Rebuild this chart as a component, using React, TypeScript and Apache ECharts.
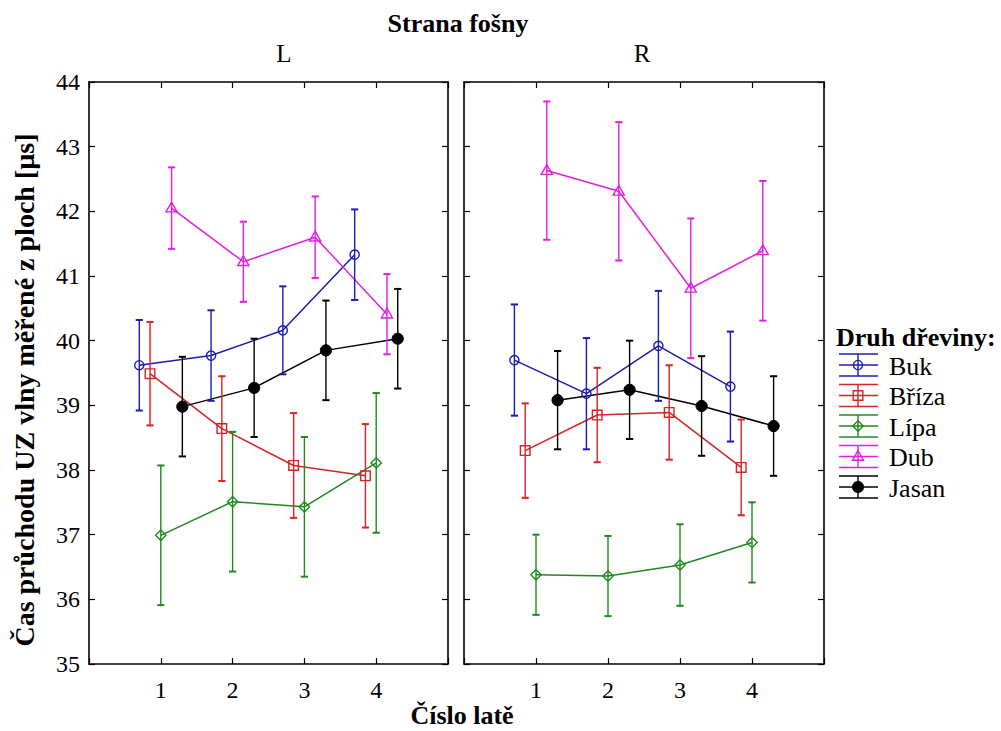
import React, { useEffect, useRef } from "react";
import * as echarts from "echarts";

// ---- data ----
const laths = [1, 2, 3, 4];
const xTickLabels = ["1", "2", "3", "4"];
const yMin = 35;
const yMax = 44;
const species = ["Buk", "Bříza", "Lípa", "Dub", "Jasan"];
const panels = ["L", "R"];

// side L: means and half-widths of error bars
const bukL = [39.62, 39.77, 40.16, 41.33];
const bukLErr = [0.7, 0.7, 0.68, 0.7];
const brizaL = [39.49, 38.64, 38.07, 37.91];
const brizaLErr = [0.8, 0.81, 0.81, 0.8];
const lipaL = [36.99, 37.51, 37.43, 38.11];
const lipaLErr = [1.08, 1.08, 1.08, 1.08];
const dubL = [42.05, 41.22, 41.6, 40.41];
const dubLErr = [0.63, 0.62, 0.63, 0.62];
const jasanL = [38.98, 39.27, 39.85, 40.03];
const jasanLErr = [0.77, 0.76, 0.77, 0.77];

// side R
const bukR = [39.7, 39.18, 39.92, 39.29];
const bukRErr = [0.86, 0.86, 0.85, 0.85];
const brizaR = [38.3, 38.85, 38.89, 38.04];
const brizaRErr = [0.73, 0.73, 0.73, 0.74];
const lipaR = [36.38, 36.36, 36.53, 36.88];
const lipaRErr = [0.62, 0.62, 0.63, 0.62];
const dubR = [42.63, 42.31, 40.81, 41.39];
const dubRErr = [1.07, 1.07, 1.08, 1.08];
const jasanR = [39.08, 39.24, 38.99, 38.68];
const jasanRErr = [0.76, 0.76, 0.77, 0.77];

const meansBySide = [
  [bukL, brizaL, lipaL, dubL, jasanL],
  [bukR, brizaR, lipaR, dubR, jasanR],
];
const errsBySide = [
  [bukLErr, brizaLErr, lipaLErr, dubLErr, jasanLErr],
  [bukRErr, brizaRErr, lipaRErr, dubRErr, jasanRErr],
];

// ---- styling ----
const colors = ["#1c1cb4", "#d42424", "#1e8a1e", "#e020e0", "#000000"];
const markers = ["circle", "square", "diamond", "triangle", "dot"];
const offsets = [-0.3, -0.15, 0, 0.15, 0.3];
const FONT = "Liberation Serif, serif";

function markerShape(kind: string, cx: number, cy: number, color: string) {
  const lw = 1.4;
  if (kind === "circle")
    return { type: "circle", shape: { cx, cy, r: 4.6 }, style: { fill: "none", stroke: color, lineWidth: lw } };
  if (kind === "square")
    return { type: "rect", shape: { x: cx - 4.8, y: cy - 4.8, width: 9.6, height: 9.6 }, style: { fill: "none", stroke: color, lineWidth: lw } };
  if (kind === "diamond")
    return {
      type: "polygon",
      shape: { points: [[cx, cy - 5.2], [cx + 5.2, cy], [cx, cy + 5.2], [cx - 5.2, cy]] },
      style: { fill: "none", stroke: color, lineWidth: lw },
    };
  if (kind === "triangle")
    return {
      type: "polygon",
      shape: { points: [[cx, cy - 6], [cx + 5.6, cy + 3.8], [cx - 5.6, cy + 3.8]] },
      style: { fill: "none", stroke: color, lineWidth: lw },
    };
  return { type: "circle", shape: { cx, cy, r: 5.6 }, style: { fill: color, stroke: color, lineWidth: 1 } };
}

export default function App() {
  const ref = useRef<HTMLDivElement>(null);

  useEffect(() => {
    if (!ref.current) return;
    const chart = echarts.init(ref.current, null, { renderer: "svg" });

    const grids = [
      { left: 89, top: 82, width: 359, height: 582 },
      { left: 464, top: 82, width: 360, height: 582 },
    ];

    const axisLine = { show: true, onZero: false, lineStyle: { color: "#000", width: 1.6 } };
    const axisTick = { show: true, inside: true, length: 6, lineStyle: { color: "#000", width: 1.2 } };

    const xAxes: any[] = [];
    const yAxes: any[] = [];
    grids.forEach((_, gi) => {
      xAxes.push({
        type: "value", gridIndex: gi, min: 0, max: 5, interval: 1, position: "bottom",
        axisLine, axisTick, splitLine: { show: false },
        axisLabel: {
          show: true, margin: 14, fontSize: 24, fontFamily: FONT, color: "#000",
          formatter: (v: number) => {
            const i = laths.indexOf(v);
            return i >= 0 ? xTickLabels[i] : "";
          },
        },
      });
      xAxes.push({
        type: "value", gridIndex: gi, min: 0, max: 5, interval: 1, position: "top",
        axisLine, axisTick, splitLine: { show: false }, axisLabel: { show: false },
      });
      yAxes.push({
        type: "value", gridIndex: gi, min: yMin, max: yMax, interval: 1, position: "left",
        axisLine, axisTick, splitLine: { show: false },
        axisLabel: { show: gi === 0, margin: 9, fontSize: 24, fontFamily: FONT, color: "#000" },
      });
      yAxes.push({
        type: "value", gridIndex: gi, min: yMin, max: yMax, interval: 1, position: "right",
        axisLine, axisTick, splitLine: { show: false }, axisLabel: { show: false },
      });
    });

    const series: any[] = [];
    panels.forEach((_, pi) => {
      species.forEach((name, si) => {
        const means = meansBySide[pi][si];
        const errs = errsBySide[pi][si];
        const color = colors[si];
        series.push({
          type: "line", name, xAxisIndex: pi * 2, yAxisIndex: pi * 2,
          data: laths.map((x, i) => [x + offsets[si], means[i]]),
          symbol: "none", lineStyle: { color, width: 1.5 }, itemStyle: { color },
          z: 2, silent: true,
        });
        series.push({
          type: "custom", name, xAxisIndex: pi * 2, yAxisIndex: pi * 2,
          data: laths.map((x, i) => [x + offsets[si], means[i], errs[i]]),
          encode: { x: 0, y: 1 },
          z: 3, silent: true,
          renderItem: (params: any, api: any) => {
            const x = api.value(0);
            const m = api.value(1);
            const e = api.value(2);
            const c = api.coord([x, m]);
            const t = api.coord([x, m + e]);
            const b = api.coord([x, m - e]);
            const cap = 3.6;
            const ls = { stroke: color, lineWidth: 1.4 };
            return {
              type: "group",
              children: [
                { type: "line", shape: { x1: c[0], y1: t[1], x2: c[0], y2: b[1] }, style: ls },
                { type: "line", shape: { x1: c[0] - cap, y1: t[1], x2: c[0] + cap, y2: t[1] }, style: { ...ls, lineWidth: 2 } },
                { type: "line", shape: { x1: c[0] - cap, y1: b[1], x2: c[0] + cap, y2: b[1] }, style: { ...ls, lineWidth: 2 } },
                markerShape(markers[si], c[0], c[1], color),
              ],
            };
          },
        });
      });
    });

    // legend drawn manually
    const legendChildren: any[] = [];
    const legX0 = 839;
    const legX1 = 878;
    const legCx = 858;
    const legY0 = 365;
    const legStep = 30.5;
    species.forEach((name, si) => {
      const y = legY0 + si * legStep;
      const color = colors[si];
      const ls = { stroke: color, lineWidth: 1.4 };
      [-11, 0, 11].forEach((dy) => {
        legendChildren.push({ type: "line", shape: { x1: legX0, y1: y + dy, x2: legX1, y2: y + dy }, style: ls });
      });
      legendChildren.push({ type: "line", shape: { x1: legCx, y1: y - 11, x2: legCx, y2: y + 11 }, style: ls });
      legendChildren.push(markerShape(markers[si], legCx, y, color));
      legendChildren.push({
        type: "text", x: 889, y: y + 1,
        style: { text: name, fontSize: 26, fontFamily: FONT, fill: "#000", verticalAlign: "middle", align: "left" },
      });
    });

    const txt = (text: string, x: number, y: number, size: number, bold: boolean, align = "center", rotation = 0) => ({
      type: "text", x, y, rotation,
      style: { text, fontSize: size, fontWeight: bold ? "bold" : "normal", fontFamily: FONT, fill: "#000", align, verticalAlign: "middle" },
    });

    const option: any = {
      animation: false,
      backgroundColor: "#ffffff",
      textStyle: { fontFamily: FONT },
      grid: grids.map((g) => ({ ...g, show: false })),
      xAxis: xAxes,
      yAxis: yAxes,
      series,
      graphic: [
        txt("Strana fošny", 458, 23, 26, true),
        txt("L", 284, 53, 25, false),
        txt("R", 642, 53, 25, false),
        txt("Číslo latě", 462, 715, 26, true),
        txt("Čas průchodu UZ vlny měřené z ploch [µs]", 24, 390, 28, true, "center", Math.PI / 2),
        txt("Druh dřeviny:", 836, 337, 26, true, "left"),
        { type: "group", children: legendChildren },
      ],
    };
    chart.setOption(option);
    return () => chart.dispose();
  }, []);

  return <div ref={ref} style={{ position: "fixed", left: 0, top: 0, width: 1001, height: 731, background: "#fff" }} />;
}
